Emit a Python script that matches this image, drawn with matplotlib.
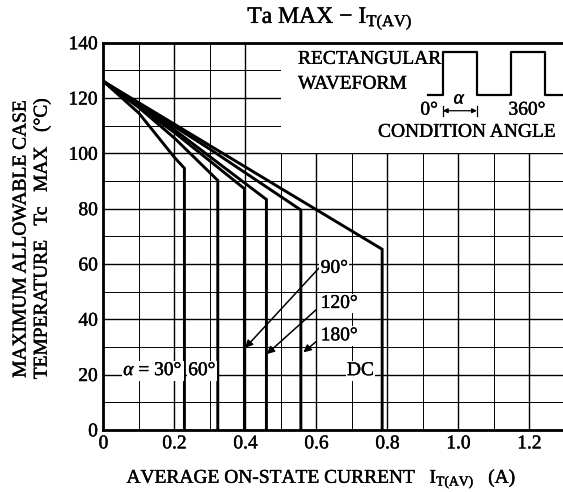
import numpy as np
import matplotlib
matplotlib.use('Agg')
import matplotlib.pyplot as plt
import matplotlib.patheffects as pe
from matplotlib.ticker import MultipleLocator, FixedLocator, FixedFormatter

plt.rcParams['font.family'] = ['Liberation Serif', 'DejaVu Serif']
plt.rcParams['mathtext.fontset'] = 'custom'
plt.rcParams['mathtext.rm'] = 'Liberation Serif'
plt.rcParams['mathtext.it'] = 'Liberation Serif:italic'

# Curvas (corriente media, temperatura de carcasa) hasta el codo y luego vertical
curva_30_x = [0.0, 0.10, 0.20, 0.228, 0.228]
curva_30_y = [126, 114.5, 98.5, 94.6, 0]
curva_60_x = [0.0, 0.10, 0.20, 0.322, 0.322]
curva_60_y = [126, 116.5, 105.5, 90.2, 0]
curva_90_x = [0.0, 0.20, 0.397, 0.397]
curva_90_y = [126, 107.5, 87.2, 0]
curva_120_x = [0.0, 0.20, 0.459, 0.459]
curva_120_y = [126, 108.5, 83.3, 0]
curva_180_x = [0.0, 0.30, 0.556, 0.556]
curva_180_y = [126, 101.5, 79.5, 0]
curva_dc_x = [0.0, 0.50, 0.785, 0.785]
curva_dc_y = [126, 87.3, 65.3, 0]

curvas = [(curva_30_x, curva_30_y), (curva_60_x, curva_60_y),
          (curva_90_x, curva_90_y), (curva_120_x, curva_120_y),
          (curva_180_x, curva_180_y), (curva_dc_x, curva_dc_y)]

xticks = [0, 0.2, 0.4, 0.6, 0.8, 1.0, 1.2]
xtick_labels = ['0', '0.2', '0.4', '0.6', '0.8', '1.0', '1.2']
yticks = [0, 20, 40, 60, 80, 100, 120, 140]

# Forma d'ona rectangular (esquema)
ona_x = [0.915, 0.956, 0.956, 1.052, 1.052, 1.147, 1.147, 1.244, 1.244, 1.30]
ona_y = [121.1, 121.1, 136.8, 136.8, 121.1, 121.1, 136.8, 136.8, 121.1, 121.1]

# trazo extra para imitar la tipografia mas gruesa del original
grueso = [pe.withStroke(linewidth=0.3, foreground='black')]

fig = plt.figure(figsize=(5.63, 4.92), dpi=100)
ax = fig.add_axes([0.1838, 0.1264, 0.8197, 0.7868])
ax.set_xlim(0, 1.3)
ax.set_ylim(0, 140)

ax.xaxis.set_major_locator(FixedLocator(xticks))
ax.xaxis.set_major_formatter(FixedFormatter(xtick_labels))
ax.xaxis.set_minor_locator(MultipleLocator(0.1))
ax.yaxis.set_major_locator(FixedLocator(yticks))
ax.yaxis.set_minor_locator(MultipleLocator(10))
ax.set_axisbelow(True)
ax.grid(which='major', color='black', lw=1.0)
ax.grid(which='minor', color='black', lw=0.7)
ax.tick_params(which='both', length=0, labelsize=14)
ax.tick_params(axis='x', pad=4)
ax.tick_params(axis='y', pad=4)
for lab in ax.get_xticklabels() + ax.get_yticklabels():
    lab.set_path_effects(grueso)
for s in ax.spines.values():
    s.set_linewidth(2.0)

# Zona blanca del recuadro superior
ax.add_patch(plt.Rectangle((0.5, 100), 0.8, 40, facecolor='white',
                           edgecolor='none', zorder=1))

for cx, cy in curvas:
    ax.plot(cx, cy, color='black', lw=2.1, zorder=3, solid_joinstyle='miter')

# Fletxes d'etiquetes
flechas = [((0.399, 29.6), (0.607, 58.5)),
           ((0.460, 27.4), (0.598, 43.3)),
           ((0.563, 28.0), (0.599, 31.9))]
for cabeza, cola in flechas:
    ax.annotate('', xy=cabeza, xytext=cola,
                arrowprops=dict(arrowstyle='-|>', color='black', lw=1.1,
                                mutation_scale=11, shrinkA=0, shrinkB=0),
                zorder=4)

caja = dict(facecolor='white', edgecolor='none', pad=1.0)
etiquetas = [
    (0.612, 58.4, '90°', 'left'),
    (0.612, 45.7, '120°', 'left'),
    (0.612, 34.0, '180°', 'left'),
    (0.139, 21.4, r'$\alpha$ = 30°', 'center'),
    (0.277, 21.4, '60°', 'center'),
    (0.724, 21.4, 'DC', 'center'),
]
for x, y, t, ha in etiquetas:
    ax.text(x, y, t, fontsize=14, va='center', ha=ha, bbox=caja, zorder=5,
            path_effects=grueso)

# Recuadro forma de onda
ax.plot(ona_x, ona_y, color='black', lw=1.6, zorder=3)
textos_recuadro = [
    (0.548, 134.0, 'RECTANGULAR', 'left'),
    (0.548, 125.0, 'WAVEFORM', 'left'),
    (0.942, 115.6, '0°', 'right'),
    (1.193, 115.6, '360°', 'center'),
    (1.004, 119.6, r'$\alpha$', 'center'),
    (1.025, 107.6, 'CONDITION ANGLE', 'center'),
]
for x, y, t, ha in textos_recuadro:
    ax.text(x, y, t, fontsize=14, va='center', ha=ha, zorder=5,
            path_effects=grueso)
ax.annotate('', xy=(0.956, 115.4), xytext=(1.052, 115.4),
            arrowprops=dict(arrowstyle='<|-|>', color='black', lw=0.9,
                            mutation_scale=7, shrinkA=0, shrinkB=0))
ax.plot([0.956, 0.956], [113.6, 117.2], color='black', lw=0.9)
ax.plot([1.052, 1.052], [113.6, 117.2], color='black', lw=0.9)

fig.text(330 / 563, 1 - 19 / 492, r'Ta MAX $-$ I$_{\mathrm{T(AV)}}$',
         fontsize=17, ha='center', va='center', path_effects=grueso)
fig.text(322 / 563, 1 - 479 / 492,
         r'AVERAGE ON-STATE CURRENT   I$_{\mathrm{T(AV)}}$   (A)',
         fontsize=14, ha='center', va='center', path_effects=grueso)
fig.text(21 / 563, 1 - 238 / 492, 'MAXIMUM ALLOWABLE CASE',
         fontsize=14, rotation=90, ha='center', va='center', path_effects=grueso)
fig.text(42 / 563, 1 - 238 / 492, 'TEMPERATURE   Tc   MAX   (°C)',
         fontsize=14, rotation=90, ha='center', va='center', path_effects=grueso)

fig.savefig('out.png', dpi=100)
